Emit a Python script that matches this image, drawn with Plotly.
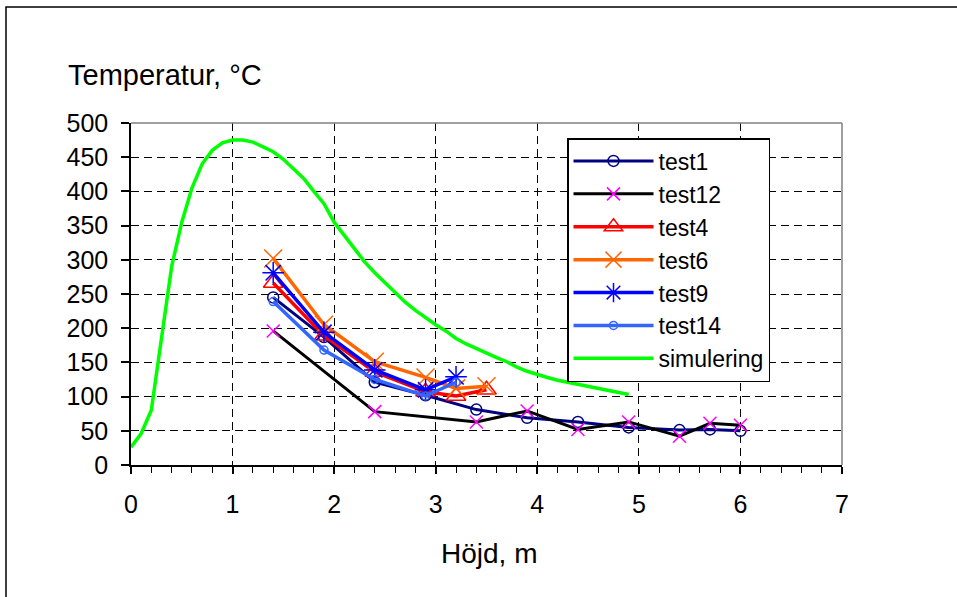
import plotly.graph_objects as go

# ---------------- data ----------------
x_test1 = [1.4, 1.9, 2.4, 2.9, 3.4, 3.9, 4.4, 4.9, 5.4, 5.7, 6.0]
y_test1 = [245, 187, 121, 102, 81, 69, 63, 55, 51, 52, 50]

x_test12 = [1.4, 2.4, 3.4, 3.9, 4.4, 4.9, 5.4, 5.7, 6.0]
y_test12 = [196, 78, 63, 79, 52, 63, 42, 61, 58]

x_test4 = [1.4, 1.9, 2.4, 2.9, 3.2, 3.5]
y_test4 = [266, 189, 136, 107, 101, 110]

x_test6 = [1.4, 1.9, 2.4, 2.9, 3.2, 3.5]
y_test6 = [302, 205, 151, 128, 112, 115]

x_test9 = [1.4, 1.9, 2.4, 2.9, 3.2]
y_test9 = [281, 194, 139, 110, 129]

x_test14 = [1.4, 1.9, 2.4, 2.9, 3.2]
y_test14 = [239, 168, 125, 101, 121]

x_sim = [0.0, 0.1, 0.2, 0.3, 0.4, 0.5, 0.6, 0.7, 0.8, 0.9, 1.0, 1.1, 1.2, 1.3,
         1.4, 1.5, 1.6, 1.7, 1.8, 1.9, 2.0, 2.1, 2.2, 2.3, 2.4, 2.5, 2.6, 2.7,
         2.8, 2.9, 3.0, 3.1, 3.2, 3.3, 3.4, 3.5, 3.6, 3.7, 3.8, 3.9, 4.0, 4.1,
         4.2, 4.3, 4.4, 4.5, 4.6, 4.7, 4.8, 4.9]
y_sim = [26, 46, 80, 185, 290, 355, 405, 440, 460, 471, 475, 475, 472, 465,
         458, 447, 433, 419, 400, 382, 355, 336, 318, 297, 281, 267, 253, 238,
         226, 215, 205, 196, 185, 177, 170, 163, 157, 151, 143, 137, 132, 128,
         124, 121, 118, 114, 112, 109, 106, 103]

x_ticks = [0, 1, 2, 3, 4, 5, 6, 7]
y_ticks = [0, 50, 100, 150, 200, 250, 300, 350, 400, 450, 500]

FONT = "Liberation Sans, Arial, sans-serif"

fig = go.Figure()

def add(name, xs, ys, lcolor, lwidth, symbol=None, mcolor=None, msize=10, mlw=1.5):
    mode = "lines+markers" if symbol else "lines"
    marker = None
    if symbol:
        marker = dict(symbol=symbol, color=mcolor, size=msize,
                      line=dict(width=mlw, color=mcolor))
    fig.add_trace(go.Scatter(x=xs, y=ys, name=name, mode=mode,
                             line=dict(color=lcolor, width=lwidth),
                             marker=marker))

add("test1", x_test1, y_test1, "#000080", 3, "circle-open", "#000080", 11, 1.5)
add("test12", x_test12, y_test12, "#000000", 3, "x-thin-open", "#FF00FF", 13, 1.5)
add("test4", x_test4, y_test4, "#FF0000", 3.5, "triangle-up-open", "#FF0000", 17, 1.5)
add("test6", x_test6, y_test6, "#FF6600", 3.5, "x-thin-open", "#FF6600", 18, 1.5)
add("test9", x_test9, y_test9, "#0000FF", 3.5, "asterisk-open", "#0000FF", 18, 1.5)
add("test14", x_test14, y_test14, "#3366FF", 3.5, "circle-open", "#3366FF", 8, 1.5)
add("simulering", x_sim, y_sim, "#00FF00", 3.5)

grid_dash = "8px,5px"

fig.update_xaxes(range=[0, 7], tickvals=x_ticks, ticktext=[str(v) for v in x_ticks],
                 showline=True, linecolor="black", linewidth=1.5,
                 ticks="outside", ticklen=7, tickcolor="black", tickwidth=1.5,
                 showgrid=True, gridcolor="black", gridwidth=1, griddash=grid_dash,
                 zeroline=False, ticklabelstandoff=9,
                 tickfont=dict(family=FONT, size=25, color="black"),
                 minor=dict(dtick=0.2, tick0=0, ticks="outside", ticklen=6,
                            tickcolor="black", tickwidth=1, showgrid=False))
fig.update_yaxes(range=[0, 500], tickvals=y_ticks, ticktext=[str(v) for v in y_ticks],
                 showline=True, linecolor="black", linewidth=1.5,
                 ticks="outside", ticklen=8, tickcolor="black", tickwidth=1.5,
                 showgrid=True, gridcolor="black", gridwidth=1, griddash=grid_dash,
                 zeroline=False, ticklabelstandoff=8,
                 tickfont=dict(family=FONT, size=25, color="black"))

# gray top/right plot-area border
fig.add_shape(type="line", xref="paper", yref="paper", x0=0, x1=1, y0=1, y1=1,
              line=dict(color="#808080", width=1.5))
fig.add_shape(type="line", xref="paper", yref="paper", x0=1, x1=1, y0=0, y1=1,
              line=dict(color="#808080", width=1.5))
# outer chart-area frame
fig.add_shape(type="rect", xref="paper", yref="paper",
              x0=(6 - 131) / 711, x1=(965 - 131) / 711,
              y0=(465 - 605) / 342, y1=(465 - 7) / 342,
              line=dict(color="black", width=1.5))

fig.add_annotation(text="Temperatur, °C", xref="paper", yref="paper",
                   x=(66 - 131) / 711, y=(465 - 75) / 342, xanchor="left", yanchor="middle",
                   showarrow=False, font=dict(family=FONT, size=29, color="black"))
fig.add_annotation(text="Höjd, m", xref="paper", yref="paper",
                   x=(489 - 131) / 711, y=(465 - 553) / 342, xanchor="center", yanchor="middle",
                   showarrow=False, font=dict(family=FONT, size=28, color="black"))

fig.update_layout(
    width=957, height=597,
    margin=dict(l=131, r=115, t=123, b=132),
    paper_bgcolor="white", plot_bgcolor="white",
    showlegend=True,
    legend=dict(x=(567 - 131) / 711, y=(465 - 138) / 342, xanchor="left", yanchor="top",
                bgcolor="white", bordercolor="black", borderwidth=1.5,
                font=dict(family=FONT, size=23, color="black"),
                itemwidth=80, tracegroupgap=0),
)

fig.write_html("out.html")
